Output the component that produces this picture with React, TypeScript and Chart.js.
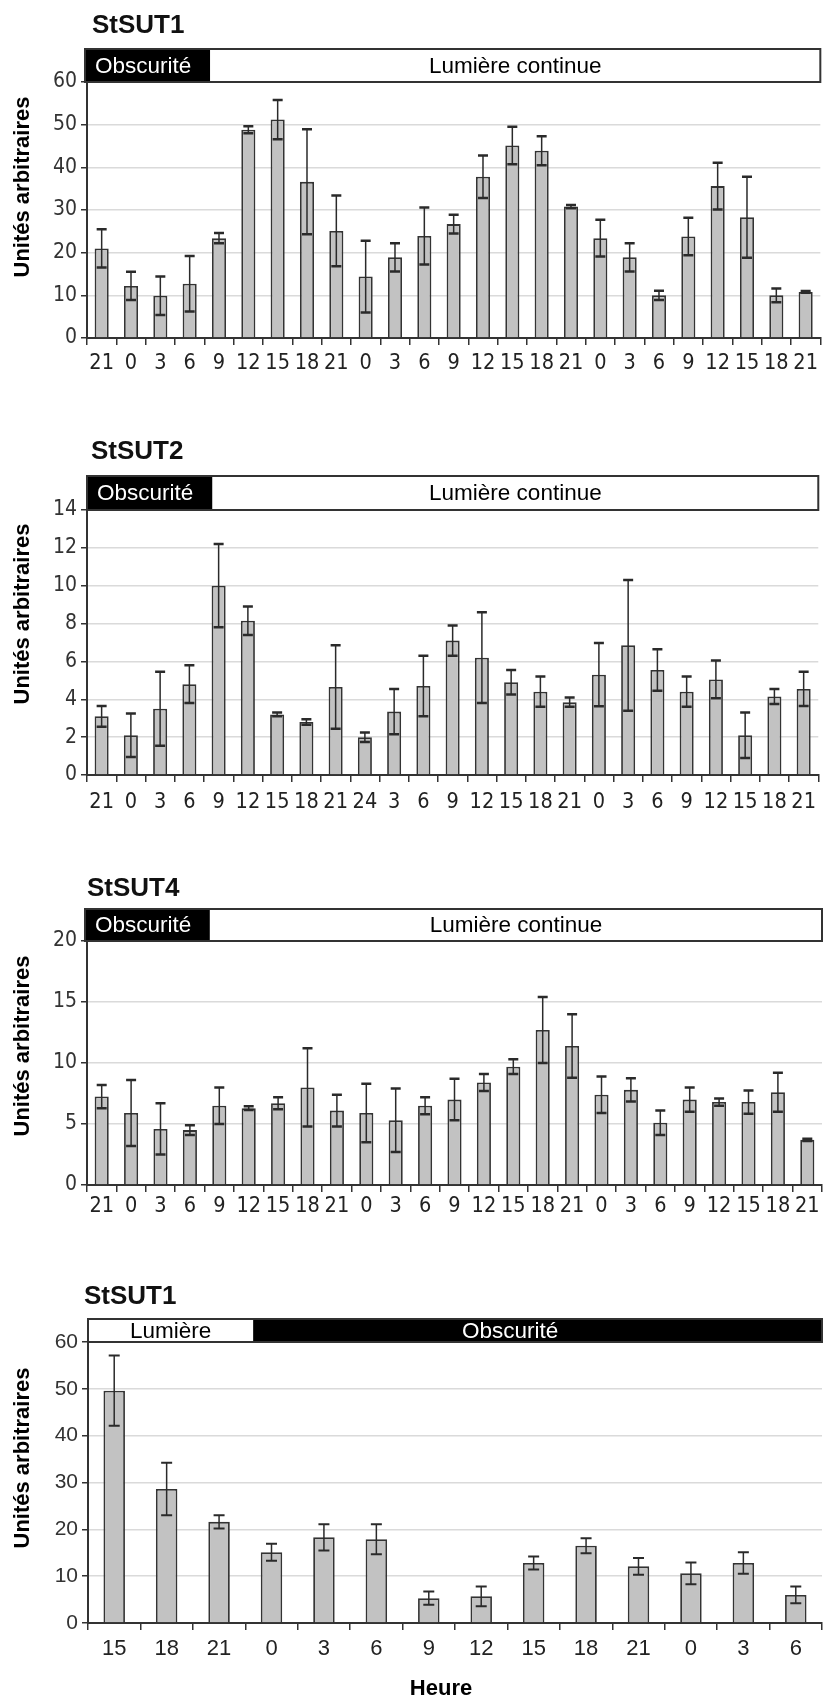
import React, { useEffect, useRef } from "react";
import { Chart, registerables } from "chart.js";

Chart.register(...registerables);

const NARROW = "'Liberation Sans Narrow', 'DejaVu Sans Condensed', 'Arial Narrow', sans-serif";
const SANS = "'Liberation Sans', Arial, Helvetica, sans-serif";

// ---------- Data ----------
const hoursA = ["21", "0", "3", "6", "9", "12", "15", "18", "21", "0", "3", "6", "9", "12", "15", "18", "21", "0", "3", "6", "9", "12", "15", "18", "21"];
const hoursB = ["21", "0", "3", "6", "9", "12", "15", "18", "21", "24", "3", "6", "9", "12", "15", "18", "21", "0", "3", "6", "9", "12", "15", "18", "21"];
const hoursC = ["15", "18", "21", "0", "3", "6", "9", "12", "15", "18", "21", "0", "3", "6"];

const sut1Values = [21.0, 12.2, 9.9, 12.7, 23.4, 48.8, 51.2, 36.6, 25.1, 14.4, 18.9, 23.9, 26.7, 37.8, 45.1, 43.9, 30.8, 23.4, 18.9, 10.0, 23.8, 35.6, 28.3, 10.0, 10.8];
const sut1Errors = [4.5, 3.3, 4.5, 6.5, 1.2, 0.8, 4.6, 12.3, 8.3, 8.4, 3.3, 6.7, 2.2, 5.0, 4.4, 3.4, 0.4, 4.3, 3.3, 1.1, 4.4, 5.5, 9.5, 1.6, 0.2];

const sut2Values = [3.1, 2.1, 3.5, 4.8, 10.0, 8.15, 3.2, 2.8, 4.65, 2.0, 3.35, 4.7, 7.1, 6.2, 4.9, 4.4, 3.85, 5.3, 6.85, 5.55, 4.4, 5.05, 2.1, 4.15, 4.55];
const sut2Errors = [0.55, 1.15, 1.95, 1.0, 2.2, 0.75, 0.1, 0.15, 2.2, 0.25, 1.2, 1.6, 0.8, 2.4, 0.65, 0.8, 0.25, 1.67, 3.45, 1.1, 0.8, 1.0, 1.2, 0.4, 0.9];

const sut4Values = [7.25, 5.9, 4.6, 4.5, 6.5, 6.3, 6.7, 8.0, 6.1, 5.9, 5.3, 6.5, 7.0, 8.4, 9.7, 12.7, 11.4, 7.4, 7.8, 5.1, 7.0, 6.8, 6.8, 7.6, 3.7];
const sut4Errors = [0.95, 2.7, 2.1, 0.4, 1.5, 0.15, 0.5, 3.2, 1.3, 2.4, 2.6, 0.7, 1.7, 0.7, 0.6, 2.7, 2.6, 1.5, 0.95, 1.0, 1.0, 0.3, 0.95, 1.6, 0.1];

const sut1bValues = [49.6, 28.6, 21.6, 15.1, 18.3, 17.9, 5.3, 5.7, 12.8, 16.5, 12.1, 10.6, 12.8, 6.0];
const sut1bErrors = [7.5, 5.6, 1.4, 1.8, 2.8, 3.2, 1.4, 2.1, 1.4, 1.6, 1.8, 2.3, 2.3, 1.8];

const yTitle = "Unités arbitraires";

type Segment = { from: number; to: number; dark: boolean; label: string; align: "left" | "center"; labelAt?: number };

type PanelCfg = {
  title: string;
  labels: string[];
  values: number[];
  errors: number[];
  yMax: number;
  yStep: number;
  top: number;
  height: number;
  plotTop: number;
  plotBottom: number;
  plotLeft: number;
  titleX: number;
  titleBase: number;
  bandTop: number;
  bandLeft: number;
  segments: Segment[];
  yTitleY: number;
  tickFont: string;
  tickSize: number;
  yTickSize: number;
  xPad: number;
  barPct: number;
  capW: number;
  capLW: number;
  stemLW: number;
  heure?: boolean;
};

function Panel({ cfg }: { cfg: PanelCfg }) {
  const ref = useRef<HTMLCanvasElement | null>(null);
  useEffect(() => {
    const canvas = ref.current;
    if (!canvas) return;
    const n = cfg.labels.length;
    const deco = {
      id: "deco",
      afterDatasetsDraw(chart: any) {
        const ctx = chart.ctx;
        const ys = chart.scales.y;
        const meta = chart.getDatasetMeta(0);
        ctx.save();
        ctx.strokeStyle = "#2a2a2a";
        meta.data.forEach((bar: any, i: number) => {
          const v = cfg.values[i];
          const e = cfg.errors[i];
          const yT = ys.getPixelForValue(v + e);
          const yB = ys.getPixelForValue(Math.max(0, v - e));
          ctx.lineWidth = cfg.stemLW;
          ctx.beginPath();
          ctx.moveTo(bar.x, yT);
          ctx.lineTo(bar.x, yB);
          ctx.stroke();
          ctx.lineWidth = cfg.capLW;
          ctx.beginPath();
          ctx.moveTo(bar.x - cfg.capW / 2, yT);
          ctx.lineTo(bar.x + cfg.capW / 2, yT);
          ctx.moveTo(bar.x - cfg.capW / 2, yB);
          ctx.lineTo(bar.x + cfg.capW / 2, yB);
          ctx.stroke();
        });
        ctx.restore();
      },
      afterDraw(chart: any) {
        const ctx = chart.ctx;
        const ca = chart.chartArea;
        const off = cfg.top;
        const bTop = cfg.bandTop - off;
        const bBot = ca.top;
        const unit = (ca.right - ca.left) / n;
        const px = (p: number) => ca.left + p * unit;
        ctx.save();
        cfg.segments.forEach((s) => {
          const x0 = s.from <= 0 ? cfg.bandLeft : px(s.from);
          const x1 = px(s.to);
          ctx.fillStyle = s.dark ? "#000" : "#fff";
          ctx.fillRect(x0, bTop, x1 - x0, bBot - bTop);
        });
        ctx.strokeStyle = "#333";
        ctx.lineWidth = 2;
        ctx.strokeRect(cfg.bandLeft, bTop, ca.right - cfg.bandLeft, bBot - bTop);
        ctx.font = `22.5px ${SANS}`;
        ctx.textBaseline = "middle";
        cfg.segments.forEach((s) => {
          const x0 = s.from <= 0 ? cfg.bandLeft : px(s.from);
          const x1 = px(s.to);
          ctx.fillStyle = s.dark ? "#fff" : "#000";
          if (s.align === "left") {
            ctx.textAlign = "left";
            ctx.fillText(s.label, x0 + 10, (bTop + bBot) / 2 + 1);
          } else {
            ctx.textAlign = "center";
            const cx = s.labelAt !== undefined ? px(s.labelAt) : (x0 + x1) / 2;
            ctx.fillText(s.label, cx, (bTop + bBot) / 2 + 1);
          }
        });
        ctx.fillStyle = "#111";
        ctx.font = `bold 26px ${SANS}`;
        ctx.textAlign = "left";
        ctx.textBaseline = "alphabetic";
        ctx.fillText(cfg.title, cfg.titleX, cfg.titleBase - off);
        ctx.save();
        ctx.translate(23, cfg.yTitleY - off);
        ctx.rotate(-Math.PI / 2);
        ctx.font = `bold 22px ${SANS}`;
        ctx.textAlign = "center";
        ctx.textBaseline = "middle";
        ctx.fillStyle = "#000";
        ctx.fillText(yTitle, 0, 0);
        ctx.restore();
        if (cfg.heure) {
          ctx.font = `bold 22px ${SANS}`;
          ctx.textAlign = "center";
          ctx.textBaseline = "alphabetic";
          ctx.fillStyle = "#000";
          ctx.fillText("Heure", 441, 1695 - off);
        }
        ctx.restore();
      },
    };

    const chart = new Chart(canvas, {
      type: "bar",
      data: {
        labels: cfg.labels,
        datasets: [
          {
            data: cfg.values,
            backgroundColor: "#c2c2c2",
            borderColor: "#333",
            borderWidth: 1.8,
            barPercentage: cfg.barPct,
            categoryPercentage: 1,
          },
        ],
      },
      options: {
        animation: false,
        responsive: false,
        maintainAspectRatio: false,
        layout: { padding: { top: cfg.plotTop - cfg.top, left: 0, right: 2, bottom: 0 } },
        plugins: { legend: { display: false }, tooltip: { enabled: false }, title: { display: false } },
        scales: {
          x: {
            type: "category",
            offset: true,
            grid: { display: true, drawOnChartArea: false, drawTicks: true, tickLength: 7, color: "#333", lineWidth: 1.5, offset: true },
            border: { display: true, color: "#333", width: 2 },
            ticks: { font: { family: cfg.tickFont, size: cfg.tickSize }, color: "#222", padding: cfg.xPad, maxRotation: 0, minRotation: 0, autoSkip: false },
            afterFit: (s: any) => {
              s.height = cfg.top + cfg.height - cfg.plotBottom;
            },
          },
          y: {
            min: 0,
            max: cfg.yMax,
            ticks: { stepSize: cfg.yStep, font: { family: cfg.tickFont, size: cfg.yTickSize }, color: "#333", padding: 4 },
            grid: { color: "#dadada", lineWidth: 1.5, tickColor: "#333", tickLength: 6, drawTicks: true },
            border: { display: true, color: "#333", width: 2 },
            afterFit: (s: any) => {
              s.width = cfg.plotLeft;
            },
          },
        },
      },
      plugins: [deco],
    } as any);
    return () => chart.destroy();
  }, []);
  return (
    <canvas
      ref={ref}
      width={824}
      height={cfg.height}
      style={{ position: "absolute", left: 0, top: cfg.top, width: 824, height: cfg.height }}
    />
  );
}

const panels: PanelCfg[] = [
  {
    title: "StSUT1", labels: hoursA, values: sut1Values, errors: sut1Errors, yMax: 60, yStep: 10,
    top: 0, height: 395, plotTop: 82, plotBottom: 338, plotLeft: 87, titleX: 92, titleBase: 33, bandTop: 49, bandLeft: 85,
    segments: [
      { from: 0, to: 4.2, dark: true, label: "Obscurité", align: "left" },
      { from: 4.2, to: 25, dark: false, label: "Lumière continue", align: "center" },
    ],
    yTitleY: 187, tickFont: NARROW, tickSize: 21.5, yTickSize: 21, xPad: 6, barPct: 0.48, capW: 10, capLW: 2.5, stemLW: 1.5,
  },
  {
    title: "StSUT2", labels: hoursB, values: sut2Values, errors: sut2Errors, yMax: 14, yStep: 2,
    top: 415, height: 420, plotTop: 510, plotBottom: 775, plotLeft: 87, titleX: 91, titleBase: 459, bandTop: 476, bandLeft: 87,
    segments: [
      { from: 0, to: 4.29, dark: true, label: "Obscurité", align: "left" },
      { from: 4.29, to: 25, dark: false, label: "Lumière continue", align: "center" },
    ],
    yTitleY: 614, tickFont: NARROW, tickSize: 21.5, yTickSize: 21, xPad: 8, barPct: 0.48, capW: 10, capLW: 2.5, stemLW: 1.5,
  },
  {
    title: "StSUT4", labels: hoursA, values: sut4Values, errors: sut4Errors, yMax: 20, yStep: 5,
    top: 850, height: 380, plotTop: 941, plotBottom: 1185, plotLeft: 87, titleX: 87, titleBase: 896, bandTop: 909, bandLeft: 85,
    segments: [
      { from: 0, to: 4.18, dark: true, label: "Obscurité", align: "left" },
      { from: 4.18, to: 25, dark: false, label: "Lumière continue", align: "center" },
    ],
    yTitleY: 1046, tickFont: NARROW, tickSize: 21.5, yTickSize: 21, xPad: 2, barPct: 0.48, capW: 10, capLW: 2.5, stemLW: 1.5,
  },
  {
    title: "StSUT1", labels: hoursC, values: sut1bValues, errors: sut1bErrors, yMax: 60, yStep: 10,
    top: 1265, height: 434, plotTop: 1342, plotBottom: 1623, plotLeft: 88, titleX: 84, titleBase: 1304, bandTop: 1319, bandLeft: 88,
    segments: [
      { from: 0, to: 3.15, dark: false, label: "Lumière", align: "center" },
      { from: 3.15, to: 14, dark: true, label: "Obscurité", align: "center", labelAt: 8.05 },
    ],
    yTitleY: 1458, tickFont: SANS, tickSize: 22, yTickSize: 21, xPad: 6, barPct: 0.41, capW: 11, capLW: 2, stemLW: 1.5, heure: true,
  },
];

export default function App() {
  return (
    <div style={{ position: "absolute", left: 0, top: 0, width: 824, height: 1699, background: "#fff" }}>
      {panels.map((p, i) => (
        <Panel key={i} cfg={p} />
      ))}
    </div>
  );
}
